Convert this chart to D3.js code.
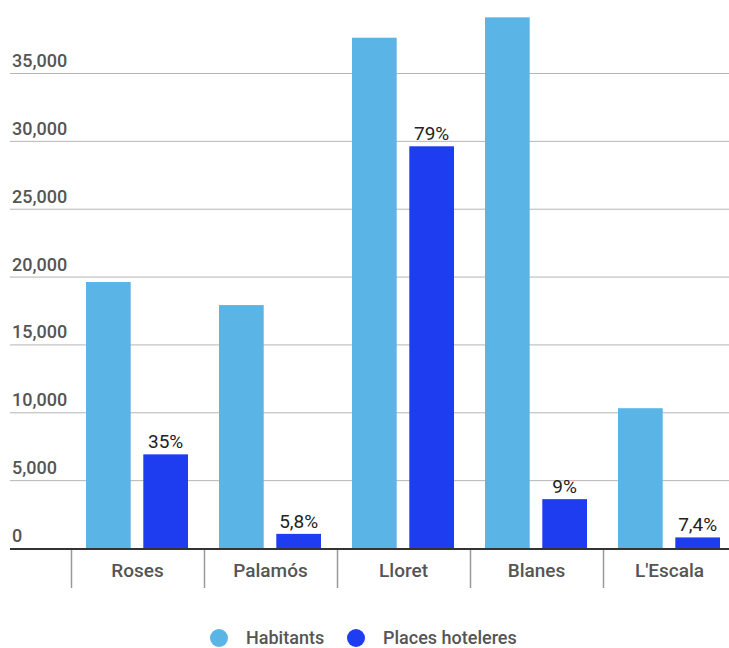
<!DOCTYPE html>
<html>
<head>
<meta charset="utf-8">
<script src="https://cdn.jsdelivr.net/npm/d3@7"></script>
<style>
  body { margin: 0; background: #fff; }
  text { font-family: Roboto, "Open Sans", sans-serif; }
</style>
</head>
<body>
<div id="chart"></div>
<script>
const width = 729, height = 648;

const towns = ["Roses", "Palamós", "Lloret", "Blanes", "L'Escala"];
const habitants = [19600, 17900, 37600, 39100, 10300];
const places = [6900, 1040, 29600, 3600, 780];
const pctLabels = ["35%", "5,8%", "79%", "9%", "7,4%"];
const yTicks = [0, 5000, 10000, 15000, 20000, 25000, 30000, 35000];
const seriesNames = ["Habitants", "Places hoteleres"];
const colors = ["#5ab4e5", "#1e3cf0"];

const svg = d3.select("#chart")
  .append("svg")
  .attr("width", width)
  .attr("height", height);

const y = d3.scaleLinear()
  .domain([0, 35000])
  .range([548, 73]);

const x = d3.scaleBand()
  .domain(towns)
  .range([71, 736]);

const inner = d3.scaleBand()
  .domain([0, 1])
  .range([15, x.bandwidth() - 16])
  .paddingInner(0.22);

// gridlines + labels
const grid = svg.append("g");
grid.selectAll("line")
  .data(yTicks.slice(1))
  .enter().append("line")
  .attr("x1", 10)
  .attr("x2", width)
  .attr("y1", d => y(d) + 0.5)
  .attr("y2", d => y(d) + 0.5)
  .attr("stroke", "#b5b5b5")
  .attr("stroke-width", 1);

grid.selectAll("text")
  .data(yTicks)
  .enter().append("text")
  .attr("x", 12)
  .attr("y", d => y(d) - 6)
  .attr("font-size", "18px")
  .attr("font-weight", 500)
  .attr("fill", "#555")
  .text(d => d3.format(",")(d));

// bars
const groups = svg.append("g")
  .selectAll("g")
  .data(towns)
  .enter().append("g")
  .attr("transform", d => `translate(${x(d)},0)`);

groups.append("rect")
  .attr("x", inner(0))
  .attr("width", inner.bandwidth())
  .attr("y", (d, i) => y(habitants[i]))
  .attr("height", (d, i) => y(0) - y(habitants[i]))
  .attr("fill", colors[0]);

groups.append("rect")
  .attr("x", inner(1))
  .attr("width", inner.bandwidth())
  .attr("y", (d, i) => y(places[i]))
  .attr("height", (d, i) => y(0) - y(places[i]))
  .attr("fill", colors[1]);

groups.append("text")
  .attr("x", inner(1) + inner.bandwidth() / 2)
  .attr("y", (d, i) => y(places[i]) - 6)
  .attr("text-anchor", "middle")
  .attr("font-size", "19px")
  .attr("fill", "#222")
  .text((d, i) => pctLabels[i]);

// x axis
svg.append("line")
  .attr("x1", 10)
  .attr("x2", width)
  .attr("y1", y(0) + 1)
  .attr("y2", y(0) + 1)
  .attr("stroke", "#333")
  .attr("stroke-width", 2);

svg.append("g")
  .selectAll("line")
  .data(towns)
  .enter().append("line")
  .attr("x1", d => x(d) + 0.5)
  .attr("x2", d => x(d) + 0.5)
  .attr("y1", y(0) + 2)
  .attr("y2", y(0) + 40)
  .attr("stroke", "#999")
  .attr("stroke-width", 1.5);

svg.append("g")
  .selectAll("text")
  .data(towns)
  .enter().append("text")
  .attr("x", d => x(d) + x.bandwidth() / 2)
  .attr("y", 577)
  .attr("text-anchor", "middle")
  .attr("font-size", "19px")
  .attr("font-weight", 500)
  .attr("fill", "#555")
  .text(d => d);

// legend
const legendX = [219, 356];
const legend = svg.append("g")
  .selectAll("g")
  .data(seriesNames)
  .enter().append("g")
  .attr("transform", (d, i) => `translate(${legendX[i]},638)`);

legend.append("circle")
  .attr("r", 9)
  .attr("fill", (d, i) => colors[i]);

legend.append("text")
  .attr("x", 27)
  .attr("y", 6)
  .attr("font-size", "18px")
  .attr("font-weight", 500)
  .attr("fill", "#555")
  .text(d => d);
</script>
</body>
</html>
